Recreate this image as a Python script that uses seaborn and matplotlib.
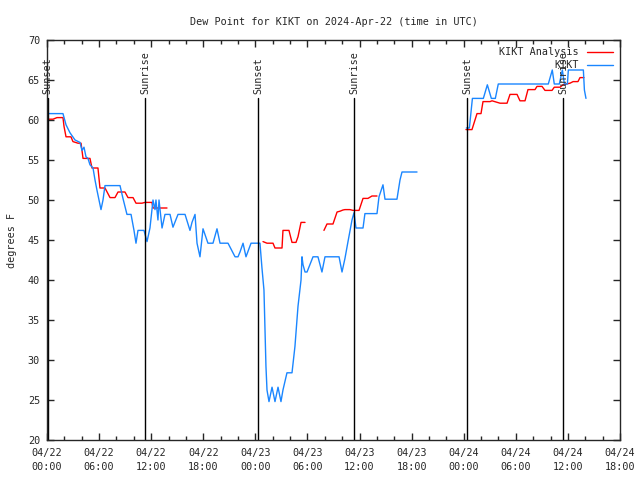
import pandas as pd
import numpy as np
import matplotlib
matplotlib.use("Agg")
import matplotlib.pyplot as plt
import seaborn as sns
from matplotlib.ticker import MultipleLocator

sns.set_style("ticks")
plt.rcParams['font.family'] = ['DejaVu Sans Mono']

# hours since 2024-04-22 00:00 UTC, dew point in F
# KIKT observations, split where the record has gaps
obs_t1 = [0.0, 1.84, 2.19, 2.65, 3.23, 3.8, 4.03, 4.26, 4.49, 4.72, 4.95, 5.3, 5.53, 5.76,
          5.99, 6.22, 6.45, 6.68, 8.41, 8.75, 9.21, 9.68, 10.02, 10.25, 10.48, 11.17, 11.52,
          11.86, 12.21, 12.44, 12.55, 12.78, 12.9, 13.25, 13.59, 14.17, 14.51, 15.09, 15.9,
          16.47, 16.7, 17.05, 17.28, 17.62, 17.97, 18.54, 19.12, 19.58, 19.93, 20.85, 21.66,
          22.0, 22.23, 22.58, 22.92, 23.5, 24.53, 24.76, 24.99, 25.22, 25.34, 25.57, 25.92,
          26.26, 26.61, 26.95, 27.18, 27.64, 28.22, 28.56, 28.91, 29.26, 29.37, 29.49, 29.72,
          29.95, 30.64, 31.21, 31.67, 32.02, 33.64, 33.98, 34.32, 34.67, 35.13, 35.36, 35.59,
          36.4, 36.62, 38.01, 38.24, 38.7, 38.93, 40.31, 40.66, 40.89, 42.62]
obs_v1 = [60.8, 60.8, 59.4, 58.4, 57.5, 57.2, 56.2, 56.6, 55.4, 55.2, 54.4, 54.0, 52.5, 51.2,
          50.0, 48.8, 50.0, 51.8, 51.8, 50.2, 48.2, 48.2, 46.2, 44.6, 46.2, 46.2, 44.8,
          46.5, 50.0, 48.8, 50.0, 47.5, 50.0, 46.5, 48.2, 48.2, 46.6, 48.2, 48.2,
          46.2, 47.2, 48.2, 44.6, 42.9, 46.4, 44.6, 44.6, 46.4, 44.6, 44.6, 42.9,
          42.9, 43.5, 44.6, 42.9, 44.6, 44.6, 41.5, 38.75, 29.2, 26.25, 24.8, 26.6,
          24.8, 26.6, 24.8, 26.25, 28.4, 28.4, 31.7, 36.7, 40.0, 42.9, 41.9, 41.0,
          41.0, 42.9, 42.9, 41.0, 42.9, 42.9, 41.0, 42.7, 44.8, 47.5, 48.4, 46.5,
          46.5, 48.3, 48.3, 50.4, 51.9, 50.1, 50.1, 52.5, 53.5, 53.5]
obs_t2 = [48.3, 48.65, 49.0, 50.26, 50.72, 51.18, 51.64, 51.98, 57.74, 58.2, 58.43, 59.01,
          59.36, 59.59, 59.94, 60.05, 61.78, 61.9, 62.08]
obs_v2 = [59.0, 59.0, 62.7, 62.7, 64.4, 62.7, 62.7, 64.5, 64.5, 66.25, 64.5, 64.5,
          66.25, 64.5, 64.5, 66.25, 66.25, 63.75, 62.7]

# KIKT analysis
ana_t1 = [0.0, 0.69, 1.15, 1.84, 1.96, 2.19, 2.76, 2.99, 3.57, 3.92, 4.15, 4.95, 5.18, 5.87,
          6.1, 6.68, 7.26, 7.83, 8.18, 8.98, 9.33, 9.91, 10.25, 10.94, 11.29, 12.09, 12.21, 13.82]
ana_v1 = [60.1, 60.1, 60.3, 60.3, 59.2, 57.9, 57.9, 57.3, 57.1, 57.1, 55.2, 55.2, 54.0, 54.0,
          51.5, 51.5, 50.3, 50.3, 51.0, 51.0, 50.3, 50.3, 49.6, 49.6, 49.7, 49.7, 49.0, 49.0]
ana_t2 = [24.88, 25.34, 26.03, 26.26, 27.07, 27.18, 27.87, 28.22, 28.68, 28.91, 29.26, 29.72]
ana_v2 = [44.8, 44.6, 44.6, 44.0, 44.0, 46.2, 46.2, 44.7, 44.7, 45.4, 47.2, 47.2]
ana_t3 = [31.9, 32.25, 32.94, 33.41, 33.75, 34.09, 34.32, 34.9, 35.25, 35.94, 36.4, 36.97,
          37.43, 38.01]
ana_v3 = [46.2, 47.0, 47.0, 48.5, 48.6, 48.75, 48.8, 48.8, 48.7, 48.7, 50.2, 50.2, 50.5, 50.5]
ana_t4 = [48.26, 48.95, 49.53, 49.99, 50.22, 51.03, 51.26, 52.18, 52.99, 53.33, 54.14, 54.48,
          55.06, 55.4, 56.21, 56.44, 57.02, 57.36, 58.17, 58.43, 59.1, 59.43, 60.24, 60.6,
          61.16, 61.39, 61.85]
ana_v4 = [58.8, 58.8, 60.8, 60.8, 62.3, 62.3, 62.4, 62.1, 62.1, 63.2, 63.2, 62.4,
          62.4, 63.8, 63.8, 64.2, 64.2, 63.7, 63.7, 64.1, 64.1, 64.4, 64.6, 64.8,
          64.8, 65.3, 65.3]

sun_hours = [0.1, 11.29, 24.3, 35.36, 48.37, 59.43]
sun_labels = ['Sunset', 'Sunrise', 'Sunset', 'Sunrise', 'Sunset', 'Sunrise']

tick_labels = ['04/22\n00:00', '04/22\n06:00', '04/22\n12:00', '04/22\n18:00',
               '04/23\n00:00', '04/23\n06:00', '04/23\n12:00', '04/23\n18:00',
               '04/24\n00:00', '04/24\n06:00', '04/24\n12:00', '04/24\n18:00']

frames = []
for i, (t, v) in enumerate([(ana_t1, ana_v1), (ana_t2, ana_v2), (ana_t3, ana_v3), (ana_t4, ana_v4)]):
    frames.append(pd.DataFrame({'hour': t, 'dewpt': v, 'series': 'KIKT Analysis', 'seg': f'a{i}'}))
for i, (t, v) in enumerate([(obs_t1, obs_v1), (obs_t2, obs_v2)]):
    frames.append(pd.DataFrame({'hour': t, 'dewpt': v, 'series': 'KIKT', 'seg': f'o{i}'}))
df = pd.concat(frames, ignore_index=True)

fig = plt.figure(figsize=(6.4, 4.8), dpi=100)
ax = fig.add_axes([47 / 640, 40 / 480, 573 / 640, 400 / 480])

sns.lineplot(data=df, x='hour', y='dewpt', hue='series', units='seg', estimator=None,
             sort=False, palette={'KIKT Analysis': '#ff0000', 'KIKT': '#1a86ff'},
             hue_order=['KIKT Analysis', 'KIKT'], linewidth=1.0, ax=ax)

for h, lab in zip(sun_hours, sun_labels):
    ax.plot([h, h], [20, 62.7], color='black', lw=1.0)
    ax.text(h, 63.3, lab, rotation=90, ha='center', va='bottom', fontsize=7.3)

ax.set_xlim(0, 66)
ax.set_ylim(20, 70)
ax.set_xticks(np.arange(0, 67, 6))
ax.set_xticklabels(tick_labels, linespacing=1.45)
ax.xaxis.set_minor_locator(MultipleLocator(2))
ax.yaxis.set_major_locator(MultipleLocator(5))
ax.tick_params(which='both', direction='in', top=True, right=True, labelsize=7.3, width=1)
ax.tick_params(which='major', length=5)
ax.tick_params(axis='x', which='major', pad=6)
ax.tick_params(axis='y', which='major', pad=5)
ax.tick_params(which='minor', length=3)
for s in ax.spines.values():
    s.set_linewidth(1.0)
    s.set_visible(True)

ax.set_xlabel('')
ax.set_ylabel('degrees F', fontsize=7.3, labelpad=8)
ax.set_title('Dew Point for KIKT on 2024-Apr-22 (time in UTC)', fontsize=7.3, pad=11)

leg = ax.legend(loc='upper right', frameon=False, markerfirst=False, fontsize=7.3,
                handlelength=2.6, borderaxespad=0.3, labelspacing=0.3, handletextpad=0.8)
for t in leg.get_texts():
    t.set_ha('right')

fig.savefig('out.png', dpi=100)
